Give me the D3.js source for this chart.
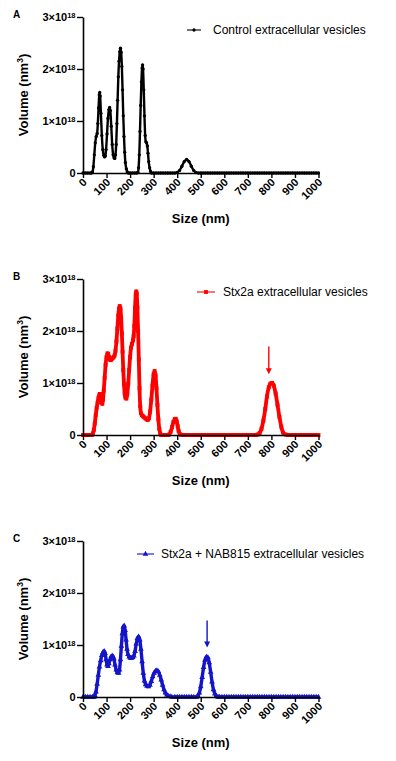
<!DOCTYPE html>
<html>
<head>
<meta charset="utf-8">
<script src="https://cdn.jsdelivr.net/npm/d3@7"></script>
<style>
  body { margin: 0; background: #fff; }
  svg { display: block; font-family: 'Liberation Sans', Arial, sans-serif; }
</style>
</head>
<body>
<div id="chart"></div>
<script>
// x categories and tick values
const xTicks = [0, 100, 200, 300, 400, 500, 600, 700, 800, 900, 1000];
const yTicks = [0, 1, 2, 3]; // ×10^18

// Panel A - control EVs (volume in 10^18 nm^3)
const aSize = [0, 10, 20, 30, 35, 40, 44, 48, 52, 56, 60, 63, 66, 69, 71, 73, 76, 80, 84, 88, 92, 95, 98, 102, 106, 110, 113, 116, 120, 124, 128, 132, 135, 138, 141, 144, 147, 150, 153, 156, 159, 162, 165, 168, 171, 174, 177, 180, 184, 188, 192, 200, 210, 220, 228, 233, 236, 239, 242, 245, 248, 251, 253, 255, 258, 261, 264, 267, 270, 273, 276, 279, 283, 287, 291, 300, 310, 320, 330, 340, 350, 360, 370, 380, 390, 400, 410, 420, 430, 440, 450, 460, 470, 480, 490, 500, 510, 520, 530, 540, 550, 560, 570, 580, 590, 600, 610, 620, 630, 640, 650, 660, 670, 680, 690, 700, 710, 720, 730, 740, 750, 760, 770, 780, 790, 800, 810, 820, 830, 840, 850, 860, 870, 880, 890, 900, 910, 920, 930, 940, 950, 960, 970, 980, 990, 1000];
const aVol = [0, 0, 0, 0, 0, 0.02, 0.12, 0.35, 0.58, 0.70, 0.76, 0.95, 1.25, 1.50, 1.55, 1.48, 1.15, 0.72, 0.45, 0.34, 0.31, 0.33, 0.45, 0.75, 1.05, 1.22, 1.26, 1.20, 0.90, 0.55, 0.35, 0.29, 0.28, 0.35, 0.55, 0.95, 1.40, 1.85, 2.15, 2.33, 2.40, 2.32, 2.05, 1.60, 1.10, 0.70, 0.40, 0.20, 0.08, 0.02, 0, 0, 0, 0, 0, 0.01, 0.10, 0.35, 0.80, 1.30, 1.75, 2.02, 2.08, 2.00, 1.60, 1.10, 0.72, 0.60, 0.58, 0.52, 0.38, 0.22, 0.10, 0.03, 0, 0, 0, 0, 0, 0, 0, 0, 0, 0, 0, 0.01, 0.05, 0.13, 0.22, 0.26, 0.22, 0.13, 0.05, 0.01, 0, 0, 0, 0, 0, 0, 0, 0, 0, 0, 0, 0, 0, 0, 0, 0, 0, 0, 0, 0, 0, 0, 0, 0, 0, 0, 0, 0, 0, 0, 0, 0, 0, 0, 0, 0, 0, 0, 0, 0, 0, 0, 0, 0, 0, 0, 0, 0, 0, 0, 0, 0, 0, 0, 0, 0, 0];

// Panel B - Stx2a EVs
const bSize = [0, 10, 20, 30, 38, 42, 46, 50, 54, 58, 62, 66, 70, 72, 75, 78, 82, 85, 88, 92, 96, 100, 104, 107, 110, 114, 118, 122, 126, 130, 134, 138, 142, 146, 150, 153, 156, 159, 162, 165, 168, 171, 174, 177, 180, 184, 188, 192, 196, 200, 204, 208, 212, 215, 218, 221, 224, 226, 228, 231, 234, 237, 240, 243, 246, 250, 255, 260, 265, 270, 275, 280, 285, 290, 295, 300, 304, 308, 312, 316, 320, 324, 328, 332, 340, 350, 360, 366, 372, 378, 384, 390, 394, 398, 402, 406, 411, 417, 430, 440, 450, 460, 470, 480, 490, 500, 510, 520, 530, 540, 550, 560, 570, 580, 590, 600, 610, 620, 630, 640, 650, 660, 670, 680, 690, 700, 710, 720, 728, 735, 742, 750, 758, 766, 774, 781, 789, 796, 803, 810, 818, 826, 834, 842, 849, 860, 870, 880, 890, 900, 910, 920, 930, 940, 950, 960, 970, 980, 990, 1000];
const bVol = [0, 0, 0, 0, 0, 0.03, 0.10, 0.22, 0.38, 0.52, 0.62, 0.72, 0.78, 0.79, 0.72, 0.63, 0.60, 0.68, 0.85, 1.10, 1.35, 1.50, 1.57, 1.56, 1.50, 1.45, 1.44, 1.46, 1.48, 1.50, 1.53, 1.62, 1.80, 2.05, 2.30, 2.43, 2.48, 2.43, 2.25, 1.95, 1.60, 1.25, 0.98, 0.80, 0.72, 0.70, 0.78, 0.98, 1.25, 1.50, 1.68, 1.75, 1.82, 1.90, 2.10, 2.45, 2.70, 2.76, 2.72, 2.45, 2.00, 1.45, 0.90, 0.55, 0.42, 0.38, 0.36, 0.34, 0.32, 0.30, 0.29, 0.32, 0.45, 0.68, 0.95, 1.17, 1.23, 1.15, 0.90, 0.58, 0.30, 0.12, 0.03, 0, 0, 0, 0, 0.01, 0.06, 0.15, 0.25, 0.31, 0.31, 0.26, 0.17, 0.08, 0.02, 0, 0, 0, 0, 0, 0, 0, 0, 0, 0, 0, 0, 0, 0, 0, 0, 0, 0, 0, 0, 0, 0, 0, 0, 0, 0, 0, 0, 0, 0, 0, 0, 0, 0.01, 0.04, 0.12, 0.28, 0.50, 0.74, 0.92, 0.99, 1.00, 0.95, 0.80, 0.58, 0.35, 0.16, 0.05, 0.01, 0, 0, 0, 0, 0, 0, 0, 0, 0, 0, 0, 0, 0, 0, 0];

// Panel C - Stx2a + NAB815 EVs
const cSize = [0, 10, 20, 30, 40, 46, 50, 55, 60, 65, 70, 75, 80, 85, 90, 94, 98, 102, 106, 110, 115, 120, 126, 131, 136, 141, 146, 151, 155, 159, 163, 167, 171, 175, 179, 183, 187, 191, 196, 201, 206, 211, 216, 221, 226, 231, 236, 241, 246, 251, 256, 261, 266, 272, 278, 284, 290, 296, 302, 308, 314, 320, 326, 332, 338, 344, 350, 356, 362, 370, 377, 390, 400, 410, 420, 430, 440, 450, 460, 470, 482, 488, 494, 500, 506, 512, 518, 524, 530, 536, 542, 548, 554, 560, 566, 574, 580, 590, 600, 610, 620, 630, 640, 650, 660, 670, 680, 690, 700, 710, 720, 730, 740, 750, 760, 770, 780, 790, 800, 810, 820, 830, 840, 850, 860, 870, 880, 890, 900, 910, 920, 930, 940, 950, 960, 970, 980, 990, 1000];
const cVol = [0, 0, 0, 0, 0, 0, 0.03, 0.10, 0.25, 0.42, 0.58, 0.70, 0.80, 0.86, 0.88, 0.84, 0.72, 0.62, 0.59, 0.64, 0.72, 0.78, 0.79, 0.74, 0.62, 0.52, 0.47, 0.46, 0.52, 0.72, 0.98, 1.22, 1.35, 1.37, 1.28, 1.10, 0.92, 0.82, 0.77, 0.75, 0.75, 0.76, 0.79, 0.88, 1.02, 1.13, 1.16, 1.10, 0.92, 0.68, 0.46, 0.31, 0.24, 0.21, 0.20, 0.23, 0.30, 0.39, 0.46, 0.50, 0.51, 0.49, 0.42, 0.33, 0.23, 0.14, 0.08, 0.04, 0.02, 0.01, 0, 0, 0, 0, 0, 0, 0, 0, 0, 0, 0, 0.02, 0.08, 0.20, 0.38, 0.57, 0.71, 0.77, 0.76, 0.66, 0.48, 0.29, 0.14, 0.06, 0.02, 0, 0, 0, 0, 0, 0, 0, 0, 0, 0, 0, 0, 0, 0, 0, 0, 0, 0, 0, 0, 0, 0, 0, 0, 0, 0, 0, 0, 0, 0, 0, 0, 0, 0, 0, 0, 0, 0, 0, 0, 0, 0, 0, 0];

// arrows marking the extra peak: [size, top, tip]
const bArrow = [789, 1.70, 1.17];
const cArrow = [527, 1.47, 0.95];

const panels = [
  { letter: 'A', label: 'Control extracellular vesicles', sizes: aSize, vols: aVol, color: '#000000', symbol: d3.symbolCircle, area: 8.5, band: 2.4, arrow: null, legendX: [187, 201, 213] },
  { letter: 'B', label: 'Stx2a extracellular vesicles', sizes: bSize, vols: bVol, color: '#ff0000', symbol: d3.symbolSquare, area: 15, band: 3.8, arrow: bArrow, legendX: [197, 215, 223] },
  { letter: 'C', label: 'Stx2a + NAB815 extracellular vesicles', sizes: cSize, vols: cVol, color: '#1414c8', symbol: d3.symbolTriangle, area: 14, band: 3.4, arrow: cArrow, legendX: [137, 154, 161] }
];

const W = 396, H = 761;
const svg = d3.select('#chart').append('svg').attr('width', W).attr('height', H);
const left = 83, right = 318.5, plotH = 156, firstTop = 17, step = 262;

panels.forEach((p, i) => {
  const top = firstTop + i * step;
  const bottom = top + plotH;
  const x = d3.scaleLinear().domain([0, 1000]).range([left, right]);
  const y = d3.scaleLinear().domain([0, 3]).range([bottom, top]);
  const g = svg.append('g');

  // panel letter
  g.append('text').attr('x', 13).attr('y', top + 0.5)
    .attr('font-size', 10).attr('font-weight', 700).text(p.letter);

  // series: dense line band + markers
  const pts = p.sizes.map((s, k) => ({ s, v: p.vols[k] }));
  g.append('path').datum(pts)
    .attr('d', d3.line().x((d) => x(d.s)).y((d) => y(d.v)).curve(d3.curveMonotoneX))
    .attr('fill', 'none').attr('stroke', p.color).attr('stroke-width', p.band)
    .attr('stroke-linejoin', 'round');
  const sym = d3.symbol().type(p.symbol).size(p.area);
  g.selectAll('path.m').data(pts).join('path').attr('class', 'm')
    .attr('transform', (d) => `translate(${x(d.s)},${y(d.v)})`)
    .attr('d', sym).attr('fill', p.color);

  // axes
  const xAxis = g.append('g').attr('transform', `translate(0,${bottom})`)
    .call(d3.axisBottom(x).tickValues(xTicks).tickFormat(d3.format('d')).tickSize(5).tickSizeOuter(0));
  xAxis.select('.domain').attr('stroke-width', 1.6);
  xAxis.selectAll('.tick line').attr('stroke-width', 1.4);
  xAxis.selectAll('.tick text')
    .attr('font-family', "'Liberation Sans', Arial, sans-serif")
    .attr('font-size', 11).attr('font-weight', 700).attr('fill', '#000')
    .attr('text-anchor', 'end').attr('dy', null).attr('y', 0)
    .attr('transform', 'translate(4,10) rotate(-45)');

  const yAxis = g.append('g').attr('transform', `translate(${left},0)`)
    .call(d3.axisLeft(y).tickValues(yTicks).tickSize(6).tickSizeOuter(0));
  yAxis.select('.domain').attr('stroke-width', 1.6);
  yAxis.selectAll('.tick line').attr('stroke-width', 1.4);
  yAxis.selectAll('.tick text').each(function (d) {
    const t = d3.select(this).text('')
      .attr('font-family', "'Liberation Sans', Arial, sans-serif")
      .attr('font-size', 11).attr('font-weight', 700).attr('fill', '#000')
      .attr('x', -7.5).attr('dy', '0.36em');
    if (d === 0) { t.text('0'); return; }
    t.append('tspan').text(`${d}×10`);
    t.append('tspan').attr('font-size', 7.5).attr('dy', '-0.45em').text('18');
  });

  // axis titles
  const yt = g.append('text')
    .attr('transform', `translate(28,${(top + bottom) / 2}) rotate(-90)`)
    .attr('text-anchor', 'middle').attr('font-size', 13).attr('font-weight', 700);
  yt.append('tspan').text('Volume (nm');
  yt.append('tspan').attr('font-size', 8.5).attr('dy', '-0.55em').text('3');
  yt.append('tspan').attr('dy', '0.35em').text(')');

  g.append('text').attr('x', (left + right) / 2).attr('y', bottom + 50)
    .attr('text-anchor', 'middle').attr('font-size', 13).attr('font-weight', 700)
    .text('Size (nm)');

  // legend
  const ly = top + 13;
  g.append('line').attr('x1', p.legendX[0]).attr('x2', p.legendX[1])
    .attr('y1', ly).attr('y2', ly).attr('stroke', p.color).attr('stroke-width', 1.1);
  g.append('path').attr('transform', `translate(${(p.legendX[0] + p.legendX[1]) / 2},${ly})`)
    .attr('d', sym).attr('fill', p.color);
  g.append('text').attr('x', p.legendX[2]).attr('y', ly + 4)
    .attr('font-size', 12).attr('fill', '#000').text(p.label);

  // arrow
  if (p.arrow) {
    const ax = x(p.arrow[0]), y0 = y(p.arrow[1]), y1 = y(p.arrow[2]);
    g.append('line').attr('x1', ax).attr('x2', ax).attr('y1', y0).attr('y2', y1 - 5)
      .attr('stroke', p.color).attr('stroke-width', 1.4);
    g.append('path').attr('d', `M${ax - 3},${y1 - 6}L${ax + 3},${y1 - 6}L${ax},${y1}Z`)
      .attr('fill', p.color);
  }
});
</script>
</body>
</html>
